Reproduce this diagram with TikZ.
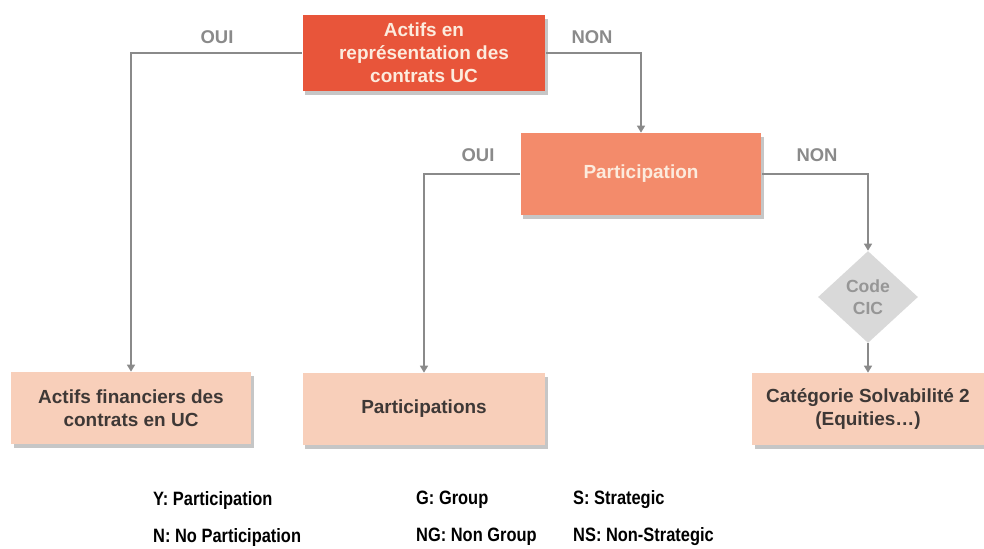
\documentclass[tikz,border=0pt]{standalone}
\usepackage{fontspec}
\setmainfont{Liberation Sans}
\newfontfamily\legendfont[FakeStretch=0.85]{Liberation Sans}
\usetikzlibrary{arrows.meta,shapes.geometric,shadows}
\definecolor{ucred}{HTML}{E8553A}
\definecolor{partsalmon}{HTML}{F38B6B}
\definecolor{leafpeach}{HTML}{F8CFBA}
\definecolor{leaftext}{HTML}{3E3836}
\definecolor{headtext}{HTML}{FCEBDD}
\definecolor{linkgray}{HTML}{8A8A8A}
\definecolor{cicgray}{HTML}{D9D9D9}

\begin{document}
\begin{tikzpicture}[x=0.02cm,y=-0.02cm,
  font=\bfseries\fontsize{10.8}{13.2}\selectfont,
  shad/.style={drop shadow={shadow xshift=1.6pt,shadow yshift=-2pt,opacity=.45}},
  headbox/.style={shad,align=center,text=headtext,inner sep=0pt},
  leafbox/.style={shad,fill=leafpeach,text=leaftext,align=center,inner sep=0pt,
    minimum width=4.8cm,minimum height=1.44cm},
  link/.style={draw=linkgray,line width=.8pt,-{Triangle[width=4.6pt,length=4pt]}},
  yesno/.style={text=linkgray,font=\bfseries\fontsize{10.5}{12}\selectfont},
  legend/.style={anchor=west,font=\legendfont\bfseries\fontsize{11}{13}\selectfont}]
  \useasboundingbox (0,0) rectangle (984,548);

  % decision nodes
  \node[headbox,fill=ucred,minimum width=4.86cm,minimum height=1.52cm] (uc) at (424,53)
    {Actifs en\\représentation des\\contrats UC};
  \node[headbox,fill=partsalmon,minimum width=4.82cm,minimum height=1.64cm] (particip) at (641,174)
    {Participation};
  \node[diamond,fill=cicgray,text=linkgray!90,align=center,inner sep=0pt,
    minimum width=2cm,minimum height=1.84cm,font=\bfseries\fontsize{10}{12.5}\selectfont] (cic) at (868,297)
    {Code\\CIC};

  % leaves
  \node[leafbox] (actifs) at (131,408) {Actifs financiers des\\contrats en UC};
  \node[leafbox,minimum width=4.86cm] (partics) at (424,409) {Participations};
  \node[leafbox,minimum width=4.64cm] (solva) at (868,409) {Catégorie Solvabilité 2\\(Equities…)};

  % connectors
  \draw[link] (uc.west) -| (actifs.north);
  \draw[link] (uc.east) -| (particip.north);
  \draw[link] (particip.west) -| (partics.north);
  \draw[link] (particip.east) -| (cic.north);
  \draw[link] (cic.south) -- (solva.north);

  \node[yesno] (oui1) at (217,37) {OUI};
  \node[yesno] (non1) at (592,37) {NON};
  \node[yesno] (oui2) at (478,155) {OUI};
  \node[yesno] (non2) at (817,155) {NON};

  % legend
  \node[legend] (y) at (147,500) {Y: Participation};
  \node[legend] (n) at (147,537) {N: No Participation};
  \node[legend] (g) at (410,500) {G: Group};
  \node[legend] (ng) at (410,537) {NG: Non Group};
  \node[legend] (s) at (567,500) {S: Strategic};
  \node[legend] (ns) at (567,537) {NS: Non-Strategic};
\end{tikzpicture}
\end{document}
